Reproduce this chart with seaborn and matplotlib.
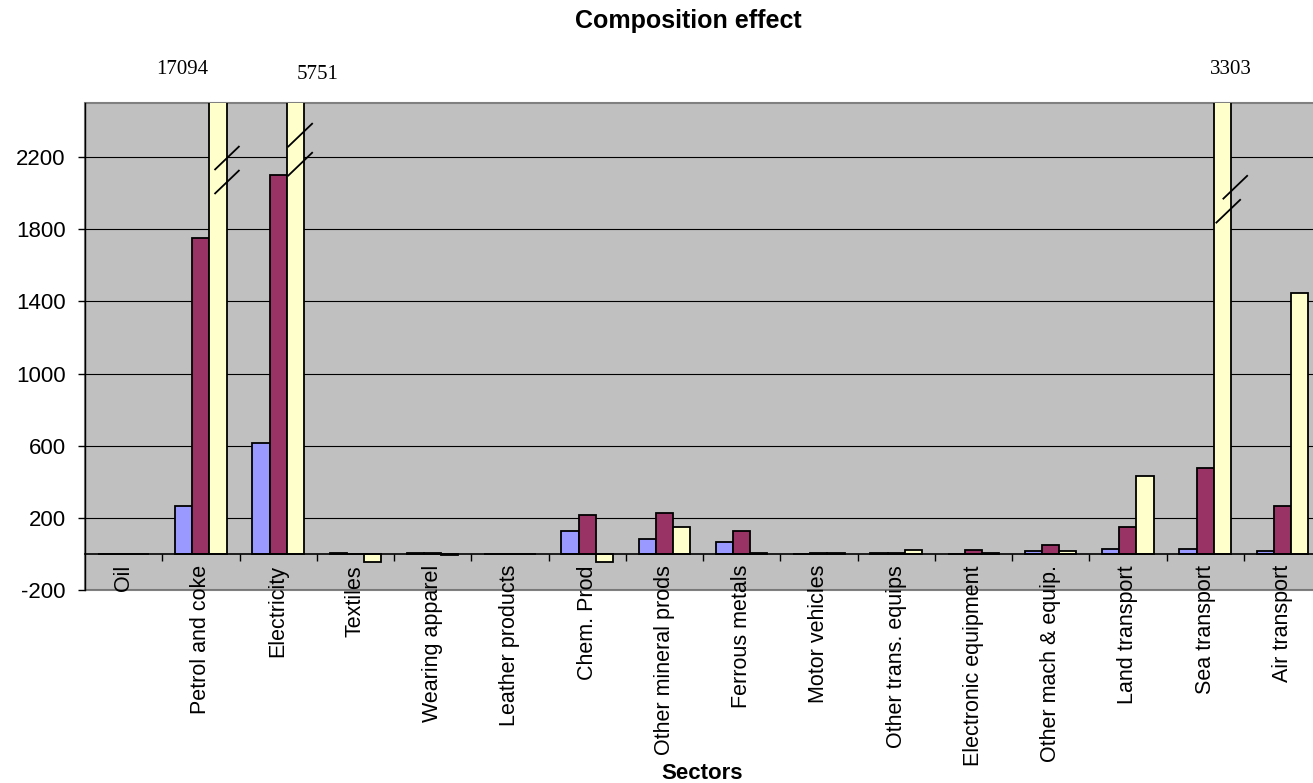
import numpy as np
import pandas as pd
import matplotlib
matplotlib.use("Agg")
import matplotlib.pyplot as plt
import matplotlib.transforms as mtransforms
import seaborn as sns

# ---------------- data ----------------
sectors = ["Oil", "Petrol and coke", "Electricity", "Textiles", "Wearing apparel",
           "Leather products", "Chem. Prod", "Other mineral prods", "Ferrous metals",
           "Motor vehicles", "Other trans. equips", "Electronic equipment",
           "Other mach & equip.", "Land transport", "Sea transport", "Air transport"]
series_names = ["Series 1", "Series 2", "Series 3"]
series1 = [0, 265, 615, 5, 5, 0, 129, 83, 64, 0, 3, 0, 15, 30, 30, 16]
series2 = [0, 1753, 2100, 0, 5, 0, 216, 225, 129, 3, 3, 20, 50, 149, 474, 267]
series3 = [0, 17094, 5751, -45, -8, 0, -45, 147, 5, 3, 20, 5, 15, 432, 3303, 1445]
y_ticks = [-200, 200, 600, 1000, 1400, 1800, 2200]
title = "Composition effect"
x_title = "Sectors"

# bars that run past the top of the axis (value printed above the chart)
broken = ["Petrol and coke", "Electricity", "Sea transport"]

df = pd.DataFrame({
    "sector": sectors * 3,
    "value": series1 + series2 + series3,
    "series": [series_names[0]] * 16 + [series_names[1]] * 16 + [series_names[2]] * 16,
})

colors = ["#9999FF", "#993366", "#FFFFCC"]

plt.rcParams["font.family"] = ["Liberation Sans", "DejaVu Sans"]

W, H, DPI = 1313, 783, 100
fig = plt.figure(figsize=(W / DPI, H / DPI), dpi=DPI)
fig.patch.set_facecolor("white")

# plot area geometry (pixels)
left_px, right_px = 85, 1321
top_px, bot_px = 102.9, 590
ax = fig.add_axes([left_px / W, (H - bot_px) / H, (right_px - left_px) / W, (bot_px - top_px) / H])

sns.barplot(data=df, x="sector", y="value", hue="series", order=sectors,
            hue_order=series_names, palette=colors, saturation=1, width=2 / 3,
            edgecolor="black", linewidth=1.3, legend=False, errorbar=None, ax=ax)

ax.set_xlim(-0.5, len(sectors) - 0.5)
ax.set_ylim(-200, 2500)
ax.set_facecolor("#C0C0C0")
ax.patch.set_edgecolor("#808080")
ax.patch.set_linewidth(1.5)

ax.set_yticks(y_ticks)
ax.set_yticklabels([str(v) for v in y_ticks], fontsize=16)
ax.yaxis.grid(True, color="black", linewidth=0.8)
ax.xaxis.grid(False)
ax.set_axisbelow(True)

for s in ["top", "right"]:
    ax.spines[s].set_visible(False)
ax.spines["left"].set_color("black")
ax.spines["left"].set_linewidth(1.0)
ax.spines["bottom"].set_position(("data", 0))
ax.spines["bottom"].set_color("black")
ax.spines["bottom"].set_linewidth(1.2)
ax.spines["bottom"].set_zorder(4)

ax.tick_params(axis="y", direction="out", length=5, width=1, pad=9, colors="black")
ax.set_xticks(range(len(sectors)))
ax.set_xticklabels(sectors, rotation=90, fontsize=15.5)
ax.tick_params(axis="x", which="major", length=0, pad=8)
ax.set_xticks(np.arange(0.5, len(sectors) - 0.5, 1.0), minor=True)
ax.tick_params(axis="x", which="minor", direction="out", length=5, width=1, color="black")
ax.set_xlabel("")
ax.set_ylabel("")

# titles
fig.text(688 / W, 1 - 27.7 / H, title, ha="center", va="baseline",
         fontsize=18, fontweight="bold")
fig.text(702 / W, 1 - 779 / H, x_title, ha="center", va="baseline",
         fontsize=16, fontweight="bold")

# value labels for clipped bars (drawn above the plot area)
label_dx = {"Petrol and coke": -0.244, "Electricity": 0.516, "Sea transport": 0.335}
label_y = {"Petrol and coke": 69.5, "Electricity": 74.5, "Sea transport": 69.5}
blend = mtransforms.blended_transform_factory(ax.transData, fig.transFigure)
for name in broken:
    i = sectors.index(name)
    fig.text(i + label_dx[name], 1 - label_y[name] / H, str(series3[i]),
             transform=blend, ha="center", va="center", fontsize=15,
             family=["Liberation Serif", "DejaVu Serif"])

# break marks on clipped bars
yellow_bars = ax.containers[2]
breaks = {
    "Petrol and coke": [(0.065, 2128), (0.065, 1995)],
    "Electricity": [(0.013, 2255), (0.013, 2094)],
    "Sea transport": [(0.117, 1966), (0.026, 1833)],
}
dx, dy = 0.324, 133
for name, marks in breaks.items():
    i = sectors.index(name)
    bar = yellow_bars[i]
    x0 = bar.get_x()
    for off, yv in marks:
        ax.plot([x0 + off, x0 + off + dx], [yv, yv + dy], color="black",
                linewidth=1.3, zorder=5, clip_on=False, solid_capstyle="butt")

fig.savefig("out.png", dpi=DPI, facecolor="white")
